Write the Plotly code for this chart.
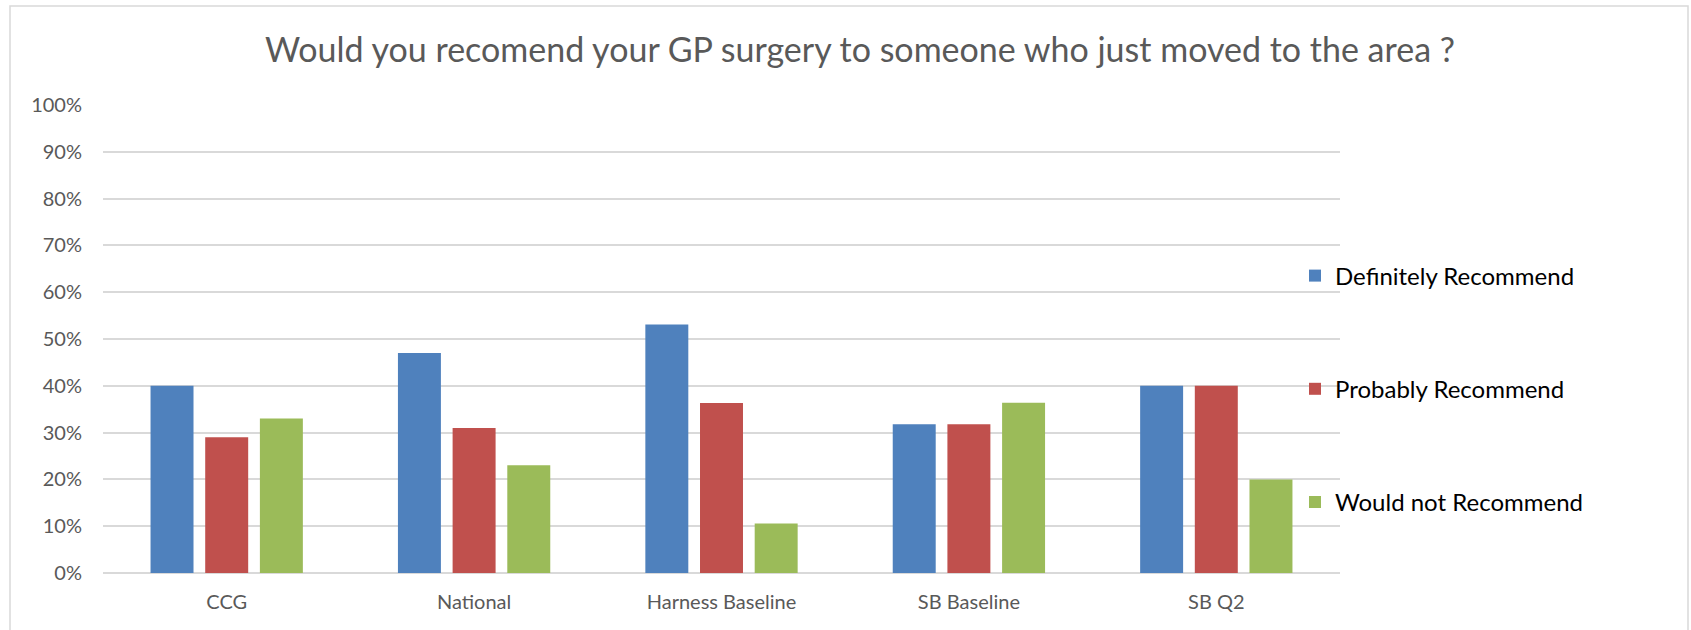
import plotly.graph_objects as go

# Survey results: share of respondents per answer, by area / period
categories = ["CCG", "National", "Harness Baseline", "SB Baseline", "SB Q2"]
definitely = [0.40, 0.47, 0.531, 0.318, 0.40]
probably = [0.29, 0.31, 0.363, 0.318, 0.40]
would_not = [0.33, 0.23, 0.106, 0.364, 0.20]

series_names = ["Definitely Recommend", "Probably Recommend", "Would not Recommend"]
series_values = [definitely, probably, would_not]
series_colors = ["#4F81BD", "#C0504D", "#9BBB59"]

y_tick_values = [i / 10 for i in range(11)]
y_tick_labels = [f"{i * 10}%" for i in range(11)]

W, H = 1691, 630
L, R, T, B = 103, 351, 105, 57
plot_w = W - L - R
plot_h = H - T - B

FONT = "Lato, Carlito, Calibri, sans-serif"
GREY_TEXT = "#595959"
GRID = "#D9D9D9"

fig = go.Figure()
for i, (name, vals, col) in enumerate(zip(series_names, series_values, series_colors)):
    fig.add_trace(go.Bar(
        x=categories, y=vals, name=name,
        marker=dict(color=col, line=dict(width=0)),
        legendgroup=f"g{i}",
        hovertemplate="%{x}: %{y:.0%}<extra>" + name + "</extra>",
    ))


def px_x(px):
    return (px - L) / plot_w


def px_y(py):
    return (H - B - py) / plot_h


fig.update_layout(
    width=W, height=H,
    margin=dict(l=L, r=R, t=T, b=B, autoexpand=False),
    paper_bgcolor="white", plot_bgcolor="white",
    font=dict(family=FONT, color=GREY_TEXT, size=20),
    barmode="group", bargap=0.337, bargroupgap=0.214,
    title=dict(
        text="Would you recomend your GP surgery to someone who just moved to the area ?",
        x=860 / W, xref="container", xanchor="center",
        y=1 - 50 / H, yref="container", yanchor="middle",
        font=dict(family=FONT, size=34, color=GREY_TEXT),
    ),
    xaxis=dict(
        showgrid=False, showline=False, zeroline=False,
        ticks="", ticklabelstandoff=15,
        tickfont=dict(size=20, color=GREY_TEXT),
    ),
    yaxis=dict(
        range=[0, 1], tickvals=y_tick_values, ticktext=y_tick_labels,
        showgrid=True, gridcolor=GRID, gridwidth=1.5,
        zeroline=True, zerolinecolor=GRID, zerolinewidth=1.5,
        showline=False, ticks="", ticklabelstandoff=20,
        tickfont=dict(size=20, color=GREY_TEXT),
    ),
    legend=dict(
        x=px_x(1295), xanchor="left",
        y=px_y(389), yanchor="middle",
        traceorder="grouped", tracegroupgap=79,
        font=dict(family=FONT, size=24, color="#000000"),
        bgcolor="rgba(0,0,0,0)",
    ),
    shapes=[dict(
        type="rect", xref="paper", yref="paper",
        x0=px_x(10), x1=px_x(1688), y0=px_y(660), y1=px_y(6),
        line=dict(color=GRID, width=1.5), fillcolor="rgba(0,0,0,0)",
        layer="below",
    )],
)

fig.write_html("out.html")
